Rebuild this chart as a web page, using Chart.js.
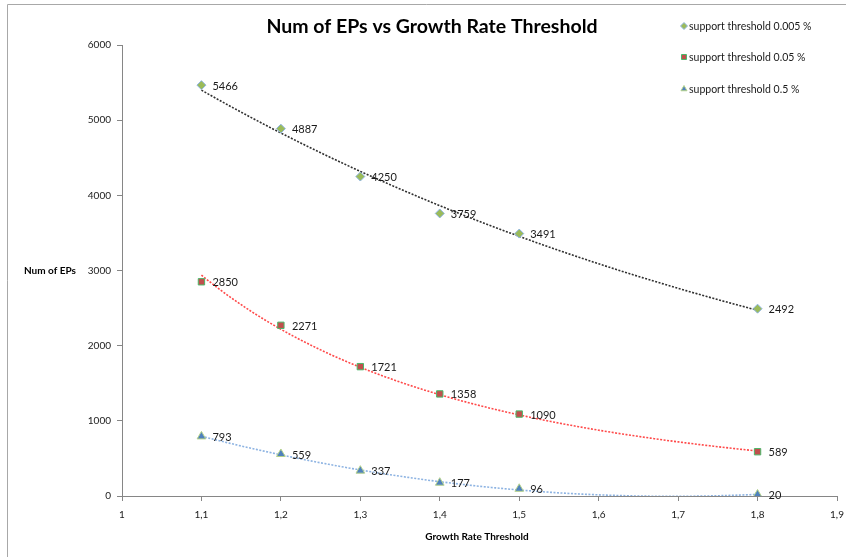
<!DOCTYPE html>
<html>
<head>
<meta charset="utf-8">
<script src="https://cdn.jsdelivr.net/npm/chart.js@4/dist/chart.umd.min.js"></script>
<style>
  html, body { margin: 0; padding: 0; background: #fff; }
  #wrap { position: relative; width: 846px; height: 557px; }
  canvas { display: block; }
</style>
</head>
<body>
<div id="wrap"><canvas id="c" width="846" height="557"></canvas></div>
<script>
// Growth rate thresholds (x) and number of emerging patterns per support threshold
const growthRates = [1.1, 1.2, 1.3, 1.4, 1.5, 1.8];
const eps0005 = [5466, 4887, 4250, 3759, 3491, 2492];
const eps005  = [2850, 2271, 1721, 1358, 1090, 589];
const eps05   = [793, 559, 337, 177, 96, 20];
const seriesNames = ['support threshold 0.005 %', 'support threshold 0.05 %', 'support threshold 0.5 %'];
const trendTypes = ['exponential', 'power', 'poly2'];
const xTicks = [1, 1.1, 1.2, 1.3, 1.4, 1.5, 1.6, 1.7, 1.8, 1.9];
const yTicks = [0, 1000, 2000, 3000, 4000, 5000, 6000];

const FONT = 'Lato, "Open Sans", sans-serif';

// Simple least-squares line
function linFit(xs, ys) {
  const n = xs.length;
  const mx = xs.reduce((a, b) => a + b, 0) / n;
  const my = ys.reduce((a, b) => a + b, 0) / n;
  let sxx = 0, sxy = 0;
  for (let i = 0; i < n; i++) { sxx += (xs[i] - mx) ** 2; sxy += (xs[i] - mx) * (ys[i] - my); }
  const b = sxy / sxx;
  return { a: my - b * mx, b };
}
// Second-order least-squares polynomial
function quadFit(xs, ys) {
  let n = xs.length, s = [0,0,0,0,0], t = [0,0,0];
  for (let i = 0; i < n; i++) {
    const x = xs[i], y = ys[i];
    for (let k = 0; k < 5; k++) s[k] += Math.pow(x, k);
    for (let k = 0; k < 3; k++) t[k] += Math.pow(x, k) * y;
  }
  const A = [[s[0], s[1], s[2], t[0]], [s[1], s[2], s[3], t[1]], [s[2], s[3], s[4], t[2]]];
  for (let i = 0; i < 3; i++) {
    for (let j = i + 1; j < 3; j++) {
      const f = A[j][i] / A[i][i];
      for (let k = i; k < 4; k++) A[j][k] -= f * A[i][k];
    }
  }
  const c = [0,0,0];
  for (let i = 2; i >= 0; i--) {
    let v = A[i][3];
    for (let k = i + 1; k < 3; k++) v -= A[i][k] * c[k];
    c[i] = v / A[i][i];
  }
  return x => c[0] + c[1] * x + c[2] * x * x;
}
function trendFn(type, xs, ys) {
  if (type === 'exponential') {
    const f = linFit(xs, ys.map(Math.log));
    return x => Math.exp(f.a + f.b * x);
  }
  if (type === 'power') {
    const f = linFit(xs.map(Math.log), ys.map(Math.log));
    return x => Math.exp(f.a + f.b * Math.log(x));
  }
  return quadFit(xs, ys);
}
function trendPoints(type, xs, ys) {
  const f = trendFn(type, xs, ys), pts = [];
  const x0 = xs[0], x1 = xs[xs.length - 1];
  for (let i = 0; i <= 140; i++) {
    const x = x0 + (x1 - x0) * i / 140;
    pts.push({ x, y: f(x) });
  }
  return pts;
}
const toXY = (ys) => growthRates.map((x, i) => ({ x, y: ys[i] }));

const marker = [
  { style: 'rectRot', fill: '#9BBB59', stroke: '#8EB4E3', r: 4.5 },
  { style: 'rect',    fill: '#C0504D', stroke: '#4CB86A', r: 4.5 },
  { style: 'triangle',fill: '#4F81BD', stroke: '#B5D28A', r: 5 }
];
const trendColors = ['#303030', '#FF4A4A', '#8DB3E2'];
const allSeries = [eps0005, eps005, eps05];

const datasets = [];
allSeries.forEach((ys, i) => {
  datasets.push({
    label: seriesNames[i] + ' trend', data: trendPoints(trendTypes[i], growthRates, ys),
    borderColor: trendColors[i], borderWidth: 1.6, borderDash: [2, 1.5],
    pointRadius: 0, showLine: true, fill: false, isTrend: true, order: 2
  });
});
allSeries.forEach((ys, i) => {
  datasets.push({
    label: seriesNames[i], data: toXY(ys), showLine: false,
    pointStyle: marker[i].style, pointRadius: marker[i].r,
    pointBackgroundColor: marker[i].fill, pointBorderColor: marker[i].stroke,
    pointBorderWidth: 1, order: 1, isTrend: false
  });
});

const decorations = {
  id: 'decorations',
  afterDraw(chart) {
    const ctx = chart.ctx;
    ctx.save();
    // chart frame (left and top edges)
    ctx.strokeStyle = '#a8a8a8';
    ctx.lineWidth = 1;
    ctx.beginPath();
    ctx.moveTo(7.5, 557); ctx.lineTo(7.5, 4.5); ctx.lineTo(846, 4.5);
    ctx.stroke();
    // title
    ctx.fillStyle = '#000';
    ctx.font = 'bold 19.5px ' + FONT;
    ctx.textAlign = 'center';
    ctx.textBaseline = 'middle';
    ctx.fillText('Num of EPs vs Growth Rate Threshold', 432, 27);
    // axis titles
    ctx.font = 'bold 10px ' + FONT;
    ctx.fillText('Growth Rate Threshold', 477, 537);
    ctx.textAlign = 'left';
    ctx.fillText('Num of EPs', 24, 271);
    // data labels
    ctx.font = '11px ' + FONT;
    ctx.fillStyle = '#1a1a1a';
    chart.data.datasets.forEach((ds, di) => {
      if (ds.isTrend) return;
      const meta = chart.getDatasetMeta(di);
      meta.data.forEach((pt, j) => {
        ctx.fillText(String(ds.data[j].y), pt.x + 11, pt.y + 1);
      });
    });
    // legend
    const legendY = [26, 57, 89];
    seriesNames.forEach((name, i) => {
      const m = marker[i];
      ctx.fillStyle = m.fill; ctx.strokeStyle = m.stroke; ctx.lineWidth = 1;
      Chart.helpers.drawPoint(ctx, { pointStyle: m.style, radius: 3.5, borderWidth: 1 }, 684, legendY[i]);
      ctx.fillStyle = '#1a1a1a';
      ctx.font = '10.5px ' + FONT;
      ctx.textAlign = 'left';
      ctx.fillText(name, 689, legendY[i] + 1);
    });
    ctx.restore();
  }
};

new Chart(document.getElementById('c'), {
  type: 'scatter',
  data: { datasets },
  options: {
    responsive: false,
    animation: false,
    layout: { padding: { top: 45, right: 9, left: 0, bottom: 0 } },
    plugins: { legend: { display: false }, title: { display: false }, tooltip: { enabled: false } },
    scales: {
      x: {
        type: 'linear', min: 1, max: 1.9,
        afterBuildTicks: (s) => { s.ticks = xTicks.map(v => ({ value: v })); },
        afterFit: (s) => { s.height = 61; s.paddingLeft = 0; s.paddingRight = 0; },
        ticks: {
          font: { family: FONT, size: 10 }, color: '#1a1a1a', padding: 8, maxRotation: 0,
          callback: (v) => (Math.round(v * 10) / 10).toString().replace('.', ',')
        },
        grid: { drawOnChartArea: false, drawTicks: true, tickLength: 5, color: '#868686' },
        border: { display: true, color: '#868686' }
      },
      y: {
        min: 0, max: 6000,
        afterBuildTicks: (s) => { s.ticks = yTicks.map(v => ({ value: v })); },
        afterFit: (s) => { s.width = 122; s.paddingTop = 0; s.paddingBottom = 0; },
        ticks: {
          font: { family: FONT, size: 10 }, color: '#1a1a1a', padding: 6,
          callback: (v) => String(v)
        },
        grid: { drawOnChartArea: false, drawTicks: true, tickLength: 5, color: '#868686' },
        border: { display: true, color: '#868686' }
      }
    }
  },
  plugins: [decorations]
});
</script>
</body>
</html>
